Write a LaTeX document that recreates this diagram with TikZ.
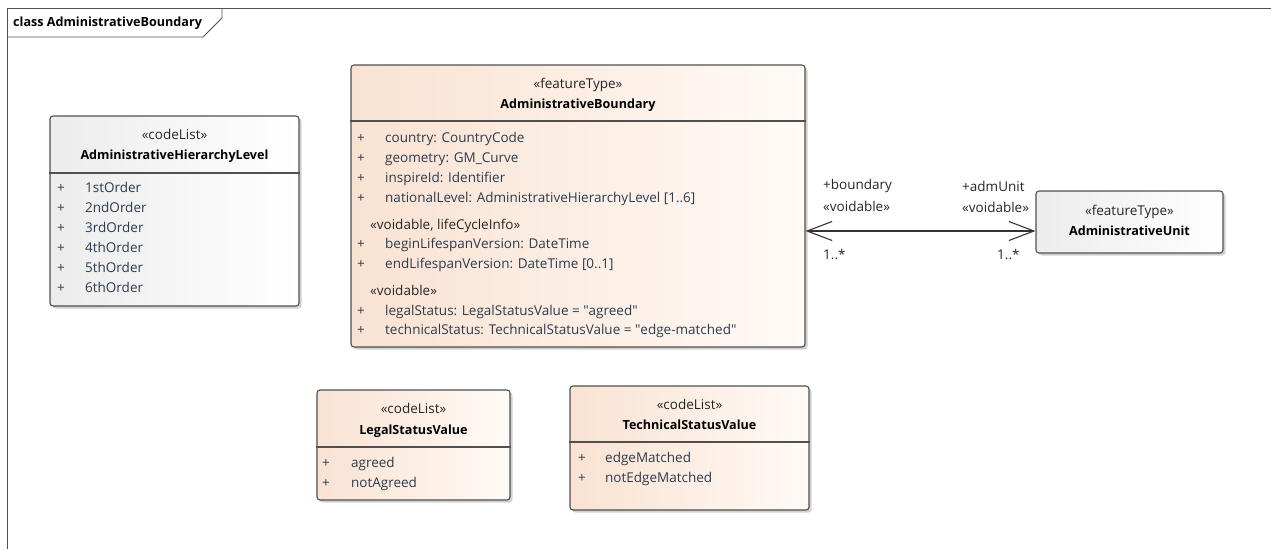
\documentclass[tikz,border=0pt]{standalone}
\usepackage{fontspec}
\setmainfont{Open Sans}
\usetikzlibrary{shadows,arrows.meta}
\definecolor{bordc}{RGB}{80,80,80}
\definecolor{itemc}{RGB}{45,60,78}
\definecolor{peachL}{RGB}{249,226,210}
\definecolor{peachR}{RGB}{255,250,246}
\definecolor{grayL}{RGB}{236,236,236}
\definecolor{grayR}{RGB}{255,255,255}
\tikzset{
  classbase/.style={draw=bordc, line width=1.1pt, rounded corners=3pt, inner sep=0pt,
     drop shadow={shadow xshift=2.5pt, shadow yshift=-2.5pt, fill=black!30, opacity=0.6}},
  peachbox/.style={classbase, left color=peachL, right color=peachR},
  graybox/.style={classbase, left color=grayL, right color=grayR},
  sepline/.style={draw=bordc, line width=1.1pt},
  txt/.style={font=\fontsize{13.5}{15}\selectfont, inner sep=0pt, anchor=mid west, yshift=-2pt},
  item/.style={txt, text=itemc},
  plus/.style={txt, text=itemc, anchor=mid},
  stereo/.style={font=\fontsize{13.5}{15}\selectfont, inner sep=0pt, anchor=mid, text=black!85, yshift=-2pt},
  cname/.style={font=\fontsize{12.6}{15}\selectfont\bfseries, inner sep=0pt, anchor=mid, text=black, yshift=-2pt},
  grp/.style={txt, text=black!85},
  lbl/.style={txt, text=black!85},
  assoc/.style={draw=black!80, line width=1.1pt},
}
\newcommand{\dq}{\textquotedbl}
\begin{document}
\begin{tikzpicture}[x=1pt,y=-1pt]
\useasboundingbox (0,0) rectangle (1271,549);
% frame
\draw[bordc, line width=0.9pt] (7,549) -- (7,8) -- (1271,8);
\draw[bordc, line width=0.9pt] (7,37) -- (203,37) -- (222,18) -- (222,8);
\node[font=\fontsize{12.6}{15}\selectfont\bfseries, inner sep=0pt, anchor=mid west, yshift=-1pt] (title) at (13,23) {class AdministrativeBoundary};

% AdministrativeHierarchyLevel
\node[graybox, minimum width=249pt, minimum height=190pt] (ahl) at (174.5,211) {};
\draw[sepline] (ahl.west |- 0,173) -- (ahl.east |- 0,173);
\node[stereo] (ahls) at (174.5,135) {«codeList»};
\node[cname] (ahln) at (174.5,155) {AdministrativeHierarchyLevel};
\foreach \t [count=\i] in {1stOrder,2ndOrder,3rdOrder,4thOrder,5thOrder,6thOrder}{
  \node[plus] (ahlp\i) at (61,168+20*\i) {+};
  \node[item] (ahli\i) at (85,168+20*\i) {\t};
}

% AdministrativeBoundary
\node[peachbox, minimum width=454pt, minimum height=282pt] (ab) at (578,206) {};
\draw[sepline] (ab.west |- 0,121) -- (ab.east |- 0,121);
\node[stereo] (abs) at (578,84) {«featureType»};
\node[cname] (abn) at (578,104) {AdministrativeBoundary};
\node[plus] (abp1) at (361,138) {+};
\node[item] (abi1) at (385,138) {country: CountryCode};
\node[plus] (abp2) at (361,158) {+};
\node[item] (abi2) at (385,158) {geometry: GM\_Curve};
\node[plus] (abp3) at (361,178) {+};
\node[item] (abi3) at (385,178) {inspireId: Identifier};
\node[plus] (abp4) at (361,198) {+};
\node[item] (abi4) at (385,198) {nationalLevel: AdministrativeHierarchyLevel [1..6]};
\node[grp] (abg1) at (370,225) {«voidable, lifeCycleInfo»};
\node[plus] (abp5) at (361,244) {+};
\node[item] (abi5) at (385,244) {beginLifespanVersion: DateTime};
\node[plus] (abp6) at (361,264) {+};
\node[item] (abi6) at (385,264) {endLifespanVersion: DateTime [0..1]};
\node[grp] (abg2) at (370,291) {«voidable»};
\node[plus] (abp7) at (361,311) {+};
\node[item] (abi7) at (385,311) {legalStatus: LegalStatusValue = \dq agreed\dq};
\node[plus] (abp8) at (361,330) {+};
\node[item] (abi8) at (385,330) {technicalStatus: TechnicalStatusValue = \dq edge-matched\dq};

% AdministrativeUnit
\node[graybox, minimum width=187pt, minimum height=62pt] (au) at (1129.5,222) {};
\node[stereo] (aus) at (1129.5,211) {«featureType»};
\node[cname] (aun) at (1129.5,231) {AdministrativeUnit};

% association
\draw[assoc, {Straight Barb[length=25pt,width=19pt,line width=1.1pt]}-{Straight Barb[length=25pt,width=19pt,line width=1.1pt]}]
  ([yshift=-9pt]au.west -| ab.east) -- ([yshift=-9pt]au.west);
\node[lbl] (l1) at (823,185) {+boundary};
\node[lbl] (l2) at (823,207) {«voidable»};
\node[lbl] (l3) at (823,255) {1..*};
\node[lbl] (r1) at (962,187) {+admUnit};
\node[lbl] (r2) at (962,208) {«voidable»};
\node[lbl] (r3) at (997,255) {1..*};

% LegalStatusValue
\node[peachbox, minimum width=193pt, minimum height=110pt] (lsv) at (413.5,445) {};
\draw[sepline] (lsv.west |- 0,447) -- (lsv.east |- 0,447);
\node[stereo] (lsvs) at (413.5,409) {«codeList»};
\node[cname] (lsvn) at (413.5,430) {LegalStatusValue};
\node[plus] (lsvp1) at (326,463) {+};
\node[item] (lsvi1) at (351,463) {agreed};
\node[plus] (lsvp2) at (326,483) {+};
\node[item] (lsvi2) at (351,483) {notAgreed};

% TechnicalStatusValue
\node[peachbox, minimum width=239pt, minimum height=124pt] (tsv) at (689.5,448) {};
\draw[sepline] (tsv.west |- 0,442) -- (tsv.east |- 0,442);
\node[stereo] (tsvs) at (689.5,405) {«codeList»};
\node[cname] (tsvn) at (689.5,425) {TechnicalStatusValue};
\node[plus] (tsvp1) at (582,458) {+};
\node[item] (tsvi1) at (605,458) {edgeMatched};
\node[plus] (tsvp2) at (582,478) {+};
\node[item] (tsvi2) at (605,478) {notEdgeMatched};
\end{tikzpicture}
\end{document}
